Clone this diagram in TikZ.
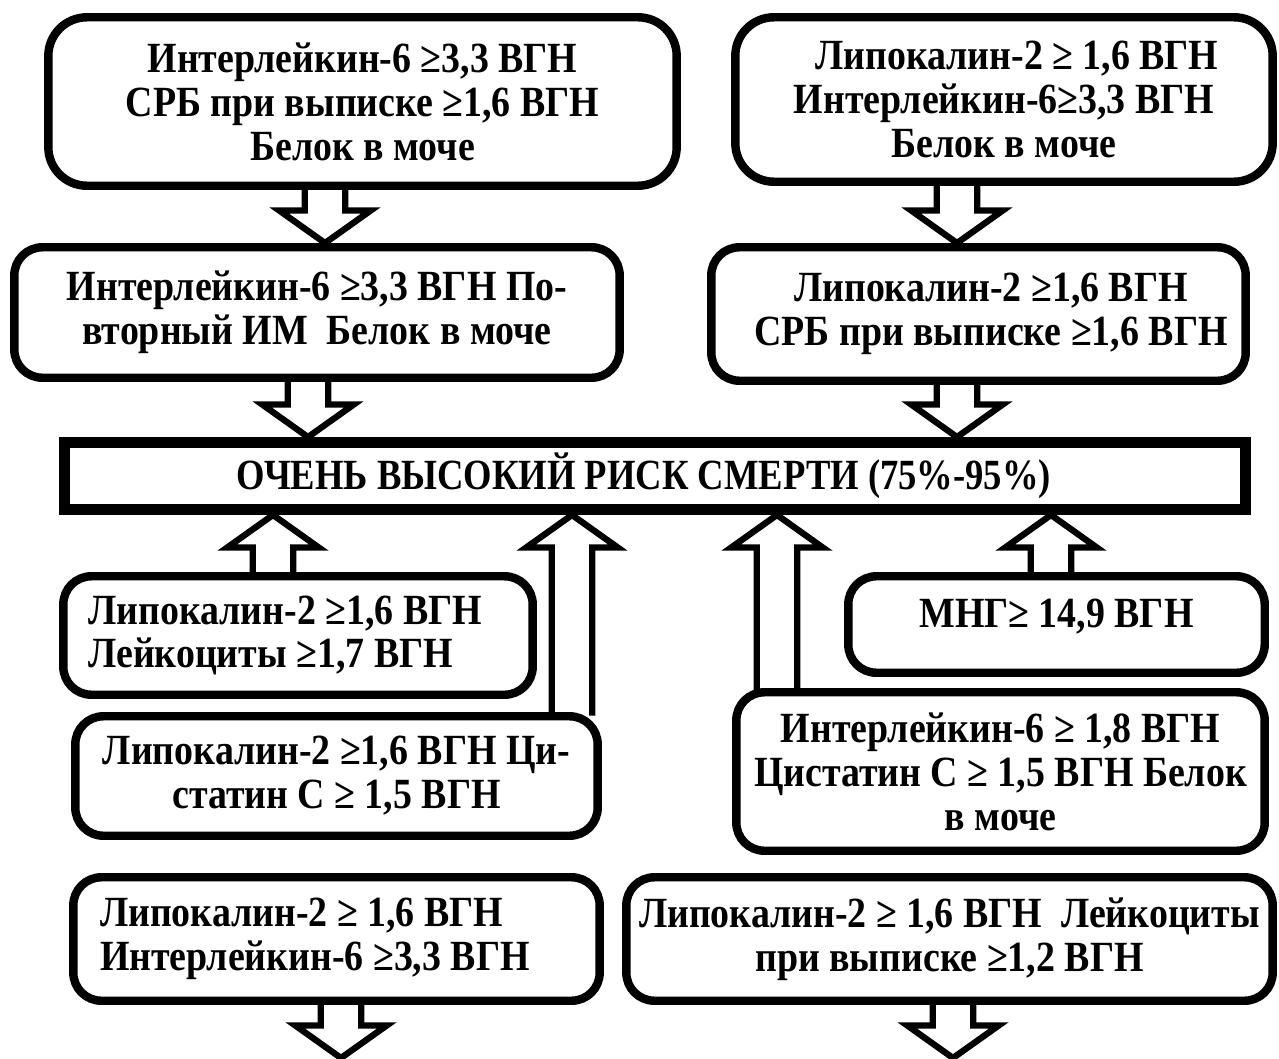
\documentclass[tikz,border=0pt]{standalone}
\usepackage{fontspec}
\setmainfont{Liberation Serif}[FakeStretch=0.88]
\newfontfamily\riskfamily{Liberation Serif}[FakeStretch=0.85]
\usepackage{tikz}
\usetikzlibrary{calc}
\newcommand{\boxfont}{\fontsize{24.5}{25}\selectfont\bfseries}
\newcommand{\shw}{11.5pt}
\newcommand{\hdw}{26pt}
\newcommand{\hdl}{18.5pt}
\tikzset{
  box/.style={draw, line width=4.8pt, rounded corners=16pt, align=center, inner sep=0pt, font=\boxfont},
  bigbox/.style={box, rounded corners=22pt},
  riskbox/.style={draw, line width=6.2pt, align=center, inner sep=0pt, font=\riskfamily\boxfont},
  blockarr/.style={line width=3.6pt, line join=miter}
}
% hollow block arrows: x position, start anchor, tip anchor
\newcommand{\blockdown}[3]{%
  \draw[blockarr] let \p1=(#1,0), \p2=(#2), \p3=(#3) in
    (\x1-\shw,\y2+2pt) -- (\x1-\shw,\y3+\hdl) -- (\x1-\hdw,\y3+\hdl) -- (\x1,\y3)
    -- (\x1+\hdw,\y3+\hdl) -- (\x1+\shw,\y3+\hdl) -- (\x1+\shw,\y2+2pt);}
\newcommand{\blockup}[3]{%
  \draw[blockarr] let \p1=(#1,0), \p2=(#2), \p3=(#3) in
    (\x1-\shw,\y2-2pt) -- (\x1-\shw,\y3-\hdl) -- (\x1-\hdw,\y3-\hdl) -- (\x1,\y3)
    -- (\x1+\hdw,\y3-\hdl) -- (\x1+\shw,\y3-\hdl) -- (\x1+\shw,\y2-2pt);}

\begin{document}
\begin{tikzpicture}[x=0.02cm, y=-0.02cm]
  \useasboundingbox (0,0) rectangle (1279,1059);
  % upper part
  \node[bigbox, minimum width=12.57cm, minimum height=3.37cm] (il6crp) at (362.5,101.5) {Интерлейкин-6 ≥3,3 ВГН\\СРБ при выписке ≥1,6 ВГН\\Белок в моче};
  \node[bigbox, minimum width=10.75cm, minimum height=3.29cm] (lcnil6a) at (1004,99.5) {\hspace*{0.6em}Липокалин-2 ≥ 1,6 ВГН\\Интерлейкин-6≥3,3 ВГН\\Белок в моче};
  \node[box, minimum width=12.11cm, minimum height=2.61cm] (il6mi) at (317,312.5) {Интерлейкин-6 ≥3,3 ВГН По-\\вторный ИМ\ \ Белок в моче};
  \node[box, minimum width=10.69cm, minimum height=2.67cm] (lcncrp) at (978.5,314) {\hspace*{0.5cm}Липокалин-2 ≥1,6 ВГН\\\hspace*{0.5cm}СРБ при выписке ≥1,6 ВГН};
  \node[riskbox, minimum width=23.62cm, minimum height=1.34cm] (risk) at (655,476) {ОЧЕНЬ ВЫСОКИЙ РИСК СМЕРТИ (75\%-95\%)\hspace*{0.45cm}};
  % lower part
  \node[box, align=flush left, text width=8.39cm, minimum width=9.39cm, minimum height=2.37cm] (lcnleu) at (298,635.5) {Липокалин-2 ≥1,6 ВГН\\Лейкоциты ≥1,7 ВГН};
  \node[box, minimum width=10.45cm, minimum height=2.39cm] (lcncys) at (336.5,776) {Липокалин-2 ≥1,6 ВГН Ци-\\статин С ≥ 1,5 ВГН};
  \node[box, text depth=13pt, minimum width=8.33cm, minimum height=1.93cm] (mng) at (1056.5,624.5) {МНГ≥ 14,9 ВГН};
  \node[box, minimum width=10.57cm, minimum height=3.17cm] (il6cys) at (1000.5,771.5) {Интерлейкин-6 ≥ 1,8 ВГН\\Цистатин С ≥ 1,5 ВГН Белок\\в моче};
  \node[box, align=flush left, text width=9.46cm, minimum width=10.53cm, minimum height=2.47cm] (lcnil6b) at (336.5,939) {Липокалин-2 ≥ 1,6 ВГН\\Интерлейкин-6 ≥3,3 ВГН};
  \node[box, minimum width=12.93cm, minimum height=2.47cm] (lcnleub) at (949.5,939) {Липокалин-2 ≥ 1,6 ВГН\ \ Лейкоциты\\при выписке ≥1,2 ВГН};
  \coordinate (endI) at (341,1058);
  \coordinate (endJ) at (953,1058);
  % arrows
  \blockdown{325}{il6crp.south}{il6mi.north}
  \blockdown{957}{lcnil6a.south}{lcncrp.north}
  \blockdown{308}{il6mi.south}{risk.north}
  \blockdown{957}{lcncrp.south}{risk.north}
  \blockup{273}{lcnleu.north}{risk.south}
  \blockup{572}{lcncys.north}{risk.south}
  \blockup{777}{il6cys.north}{risk.south}
  \blockup{1051}{mng.north}{risk.south}
  \blockdown{341}{lcnil6b.south}{endI}
  \blockdown{953}{lcnleub.south}{endJ}
\end{tikzpicture}
\end{document}
